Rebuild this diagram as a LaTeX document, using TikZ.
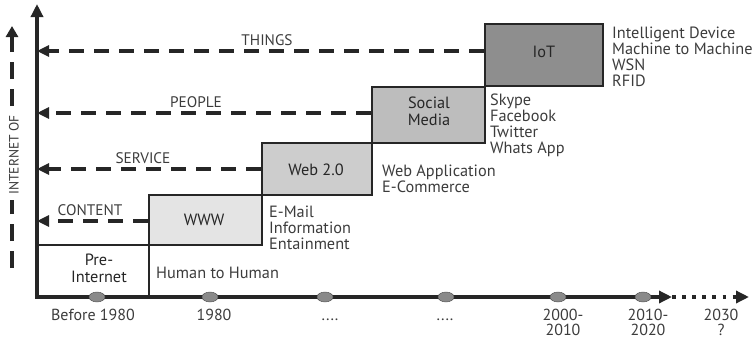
\documentclass[tikz,border=0pt]{standalone}
\usepackage{fontspec}
\setmainfont{PT Sans}
\usetikzlibrary{arrows.meta,shapes.geometric}
\definecolor{ink}{HTML}{262626}
\definecolor{txt}{HTML}{3C3C3C}
\definecolor{fwww}{HTML}{E4E4E4}
\definecolor{fweb}{HTML}{CDCDCD}
\definecolor{fsoc}{HTML}{BDBDBD}
\definecolor{fiot}{HTML}{8E8E8E}
\definecolor{tick}{HTML}{8A8A8A}
\begin{document}
\begin{tikzpicture}[x=1pt,y=-1pt,
  stagebox/.style={draw=ink, line width=2.4pt, rectangle, inner sep=0pt},
  boxtxt/.style={anchor=base, inner sep=0pt, align=center, text=ink, font=\fontsize{16.3}{17}\selectfont},
  listtxt/.style={anchor=base west, inner sep=0pt, align=left, text=txt, font=\fontsize{16.3}{16}\selectfont},
  cattxt/.style={anchor=base, inner sep=0pt, text=txt, font=\fontsize{15.3}{16}\selectfont},
  yeartxt/.style={anchor=base, inner sep=0pt, align=center, text=txt, font=\fontsize{16}{15}\selectfont},
  dasharrow/.style={draw=ink, line width=3.8pt, dash pattern=on 15pt off 10pt, -{Triangle[length=12pt,width=11pt]}},
  axisline/.style={draw=ink, line width=3.4pt},
  tickmark/.style={ellipse, fill=tick, draw=gray!60!black, line width=0.4pt, minimum width=16pt, minimum height=10pt, inner sep=0pt}]
\useasboundingbox (0,0) rectangle (752,340);
% boxes
\node[stagebox, fill=fwww, minimum width=113pt, minimum height=50pt] (www) at (205.5,220) {};
\node[stagebox, fill=fweb, minimum width=110pt, minimum height=52pt] (web) at (317,169) {};
\node[stagebox, fill=fsoc, minimum width=113pt, minimum height=56pt] (soc) at (428.5,115) {};
\node[stagebox, fill=fiot, minimum width=118pt, minimum height=62pt] (iot) at (544,55) {};
\node[stagebox, minimum width=112pt, minimum height=52pt] (pre) at (93,271) {};
\node[boxtxt] (wwwt) at (204,225) {WWW};
\node[boxtxt] (webt) at (316,175) {Web 2.0};
\node[boxtxt] (soct) at (429,125) {Social\\Media};
\node[boxtxt] (iott) at (544,57) {IoT};
\node[boxtxt] (pret) at (99,282) {Pre-\\Internet};
% axes
\coordinate (origin) at (37,297);
\coordinate (ytop) at (37,4);
\coordinate (xend) at (672,297);
\coordinate (xfar) at (749,297);
\draw[axisline, -{Triangle[length=13pt,width=12pt]}] ([yshift=-1.7pt]origin) -- (ytop);
\draw[axisline, -{Triangle[length=13pt,width=12pt]}] ([xshift=-1.7pt]origin) -- (xend);
\draw[draw=ink, line width=3.6pt, dash pattern=on 3.6pt off 6.5pt, -{Triangle[length=13pt,width=12pt]}] (xend) -- (xfar);
% dashed category arrows
\draw[dasharrow] ([yshift=4pt]iot.west) -- ([yshift=4pt]iot.west -| origin);
\draw[dasharrow] ([yshift=2pt]soc.west) -- ([yshift=2pt]soc.west -| origin);
\draw[dasharrow] (web.west) -- (web.west -| origin);
\draw[dasharrow] ([yshift=-1pt]www.west) -- ([yshift=-1pt]www.west -| origin);
\node[cattxt] (things) at (267,45) {THINGS};
\node[cattxt] (people) at (196,107) {PEOPLE};
\node[cattxt] (service) at (143,163) {SERVICE};
\node[cattxt] (content) at (90,215) {CONTENT};
% internet of arrow
\coordinate (ioB) at (12,268);
\coordinate (ioT) at (12,26);
\draw[draw=ink, line width=4.5pt, dash pattern=on 17pt off 10pt, -{Triangle[length=11pt,width=12pt]}] (ioB) -- (ioT);
\node[fill=white, rotate=90, inner xsep=5pt, inner ysep=1pt, text=txt, font=\fontsize{13.5}{14}\selectfont] (iof) at (14,155) {INTERNET OF};
% lists
\node[listtxt] (hh) at (156,278) {Human to Human};
\node[listtxt] (l1) at (269,249) {E-Mail\\Information\\Entainment};
\node[listtxt] (l2) at (382,192) {Web Application\\E-Commerce};
\node[listtxt] (l3) at (490,153) {Skype\\Facebook\\Twitter\\Whats App};
\node[listtxt] (l4) at (612,86) {Intelligent Device\\Machine to Machine\\WSN\\RFID};
% ticks
\foreach \n/\x in {t1/97,t2/210,t3/325,t4/446,t5/558,t6/643}{
  \node[tickmark] (\n) at (\x,297) {};
}
\node[yeartxt] (y1) at (93,320) {Before 1980};
\node[yeartxt] (y2) at (214,320) {1980};
\node[yeartxt] (y3) at (330,320) {....};
\node[yeartxt] (y4) at (445,320) {....};
\node[yeartxt] (y5) at (563,335) {2000-\\2010};
\node[yeartxt] (y6) at (648,335) {2010-\\2020};
\node[yeartxt] (y7) at (721,335) {2030\\?};
\end{tikzpicture}
\end{document}
